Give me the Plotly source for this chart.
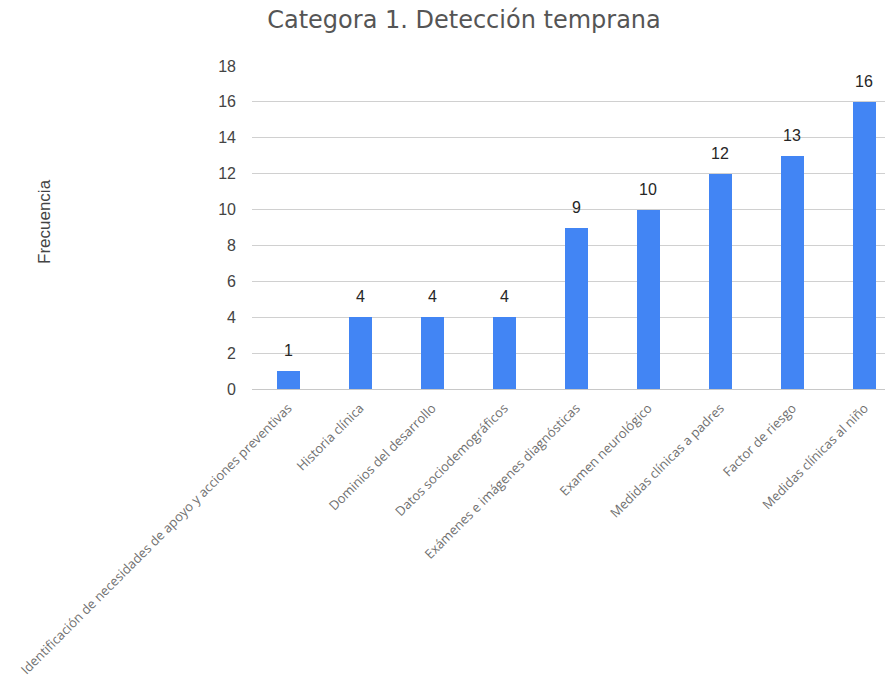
import plotly.graph_objects as go

categorias = [
    "Identificación de necesidades de apoyo y acciones preventivas",
    "Historia clínica",
    "Dominios del desarrollo",
    "Datos sociodemográficos",
    "Exámenes e imágenes diagnósticas",
    "Examen neurológico",
    "Medidas clínicas a padres",
    "Factor de riesgo",
    "Medidas clínicas al niño",
]
frecuencia = [1, 4, 4, 4, 9, 10, 12, 13, 16]
y_ticks = [0, 2, 4, 6, 8, 10, 12, 14, 16, 18]

W, H = 892, 683
x_pos = list(range(len(categorias)))

fig = go.Figure(
    go.Bar(
        x=x_pos,
        y=frecuencia,
        width=0.32,
        marker=dict(color="#4285F4", line=dict(width=0)),
        hoverinfo="x+y",
    )
)

# value labels above each bar
for xi, v in zip(x_pos, frecuencia):
    fig.add_annotation(
        x=xi,
        y=v,
        text=str(v),
        showarrow=False,
        yanchor="bottom",
        yshift=10,
        font=dict(family="Liberation Sans, Arial", size=16, color="#262626"),
    )

fig.update_layout(
    width=W,
    height=H,
    paper_bgcolor="white",
    plot_bgcolor="white",
    margin=dict(l=252, r=7, t=66, b=294, autoexpand=False),
    showlegend=False,
    bargap=0,
    title=dict(
        text="Categora 1. Detección temprana",
        font=dict(family="DejaVu Sans, Verdana", size=24, color="#555555"),
        x=464 / W,
        xanchor="center",
        y=1 - 20 / H,
        yanchor="middle",
    ),
)

fig.update_xaxes(
    range=[-0.5, 8.285],
    tickmode="array",
    tickvals=x_pos,
    ticktext=categorias,
    tickangle=-45,
    tickfont=dict(family="Open Sans", size=13, color="#707070"),
    showgrid=False,
    zeroline=False,
    showline=False,
    ticks="",
    ticklabelstandoff=8,
    automargin=False,
)

fig.update_yaxes(
    range=[0, 18],
    tickmode="array",
    tickvals=y_ticks,
    tickfont=dict(family="Liberation Sans, Arial", size=16, color="#444444"),
    showgrid=True,
    gridcolor="#d0d0d0",
    gridwidth=1,
    zeroline=True,
    zerolinecolor="#c8c8c8",
    zerolinewidth=1,
    showline=False,
    ticks="",
    ticklabelstandoff=15,
    automargin=False,
)

fig.add_annotation(
    text="Frecuencia",
    xref="paper",
    yref="paper",
    x=(44 - 252) / (W - 252 - 7),
    y=(H - 294 - 222) / (H - 66 - 294),
    textangle=-90,
    showarrow=False,
    font=dict(family="Liberation Sans, Arial", size=17, color="#444444"),
    xanchor="center",
    yanchor="middle",
)

fig.write_html("out.html")
